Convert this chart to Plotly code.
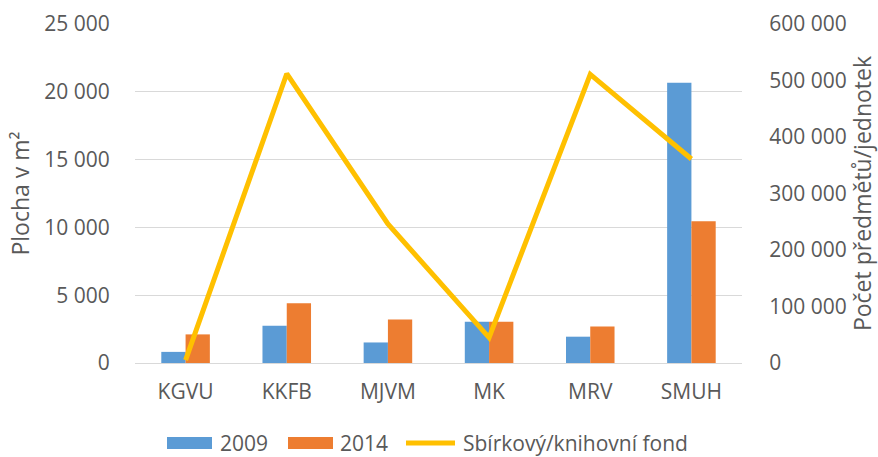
import plotly.graph_objects as go

categories = ["KGVU", "KKFB", "MJVM", "MK", "MRV", "SMUH"]
area_2009 = [820, 2740, 1515, 3040, 1940, 20660]
area_2014 = [2110, 4400, 3210, 3035, 2690, 10450]
fond = [5000, 512000, 246000, 45000, 511000, 361000]

series_names = ["2009", "2014", "Sbírkový/knihovní fond"]
series_colors = ["#5B9BD5", "#ED7D31", "#FFC000"]

left_ticks = [0, 5000, 10000, 15000, 20000, 25000]
right_ticks = [0, 100000, 200000, 300000, 400000, 500000, 600000]

txt = "#595959"
font = "Open Sans"

W, H = 878, 457
ML, MR, MT, MB = 135, 136, 24, 94
PW, PH = W - ML - MR, H - MT - MB


def px_x(p):
    return (p - ML) / PW


def px_y(p):
    return (H - MB - p) / PH


fig = go.Figure()
fig.add_trace(go.Bar(x=categories, y=area_2009, name=series_names[0],
                     marker_color=series_colors[0], marker_line_width=0))
fig.add_trace(go.Bar(x=categories, y=area_2014, name=series_names[1],
                     marker_color=series_colors[1], marker_line_width=0))
fig.add_trace(go.Scatter(x=categories, y=fond, name=series_names[2], mode="lines",
                         line=dict(color=series_colors[2], width=5), yaxis="y2"))

# custom legend (Excel-style wide swatches)
legend_y = 443
swatches = [(167, 212, "rect"), (288, 333, "rect"), (406, 455, "line")]
text_x = [218, 338, 461]
shapes = []
annotations = []
for (x0, x1, kind), tx, name, col in zip(swatches, text_x, series_names, series_colors):
    if kind == "rect":
        shapes.append(dict(type="rect", xref="paper", yref="paper",
                           x0=px_x(x0), x1=px_x(x1), y0=px_y(legend_y + 6), y1=px_y(legend_y - 6),
                           fillcolor=col, line=dict(width=0)))
    else:
        shapes.append(dict(type="line", xref="paper", yref="paper",
                           x0=px_x(x0), x1=px_x(x1), y0=px_y(legend_y), y1=px_y(legend_y),
                           line=dict(color=col, width=5)))
    annotations.append(dict(text=name, xref="paper", yref="paper", x=px_x(tx), y=px_y(legend_y),
                            xanchor="left", yanchor="middle", showarrow=False,
                            font=dict(size=21, color=txt, family=font)))

fig.update_layout(
    width=W, height=H,
    margin=dict(l=ML, r=MR, t=MT, b=MB, autoexpand=False),
    paper_bgcolor="white", plot_bgcolor="white",
    separators=", ",
    showlegend=False,
    font=dict(family=font, size=21, color=txt),
    barmode="group", bargap=0.52, bargroupgap=0,
    xaxis=dict(showgrid=False, showline=False, ticks="outside", ticklen=10,
               tickcolor="rgba(0,0,0,0)", tickfont=dict(size=21, color=txt), automargin=False),
    yaxis=dict(range=[0, 25000], tickvals=left_ticks, tickformat=",d",
               showgrid=True, gridcolor="#D9D9D9", gridwidth=1, zeroline=True,
               zerolinecolor="#D9D9D9", zerolinewidth=1, showline=False, ticks="outside",
               ticklen=20, tickcolor="rgba(0,0,0,0)", tickfont=dict(size=21, color=txt),
               automargin=False,
               title=dict(text="Plocha v m²", font=dict(size=23, color=txt), standoff=8)),
    yaxis2=dict(range=[0, 600000], tickvals=right_ticks, tickformat=",d",
                overlaying="y", side="right", showgrid=False, zeroline=False,
                showline=False, ticks="outside", ticklen=22, tickcolor="rgba(0,0,0,0)",
                tickfont=dict(size=21, color=txt), automargin=False,
                title=dict(text="Počet předmětů/jednotek", font=dict(size=23, color=txt), standoff=8)),
    shapes=shapes,
    annotations=annotations,
)

fig.write_html("out.html", post_script="document.body.style.margin='0';",
               config={"displayModeBar": False})
